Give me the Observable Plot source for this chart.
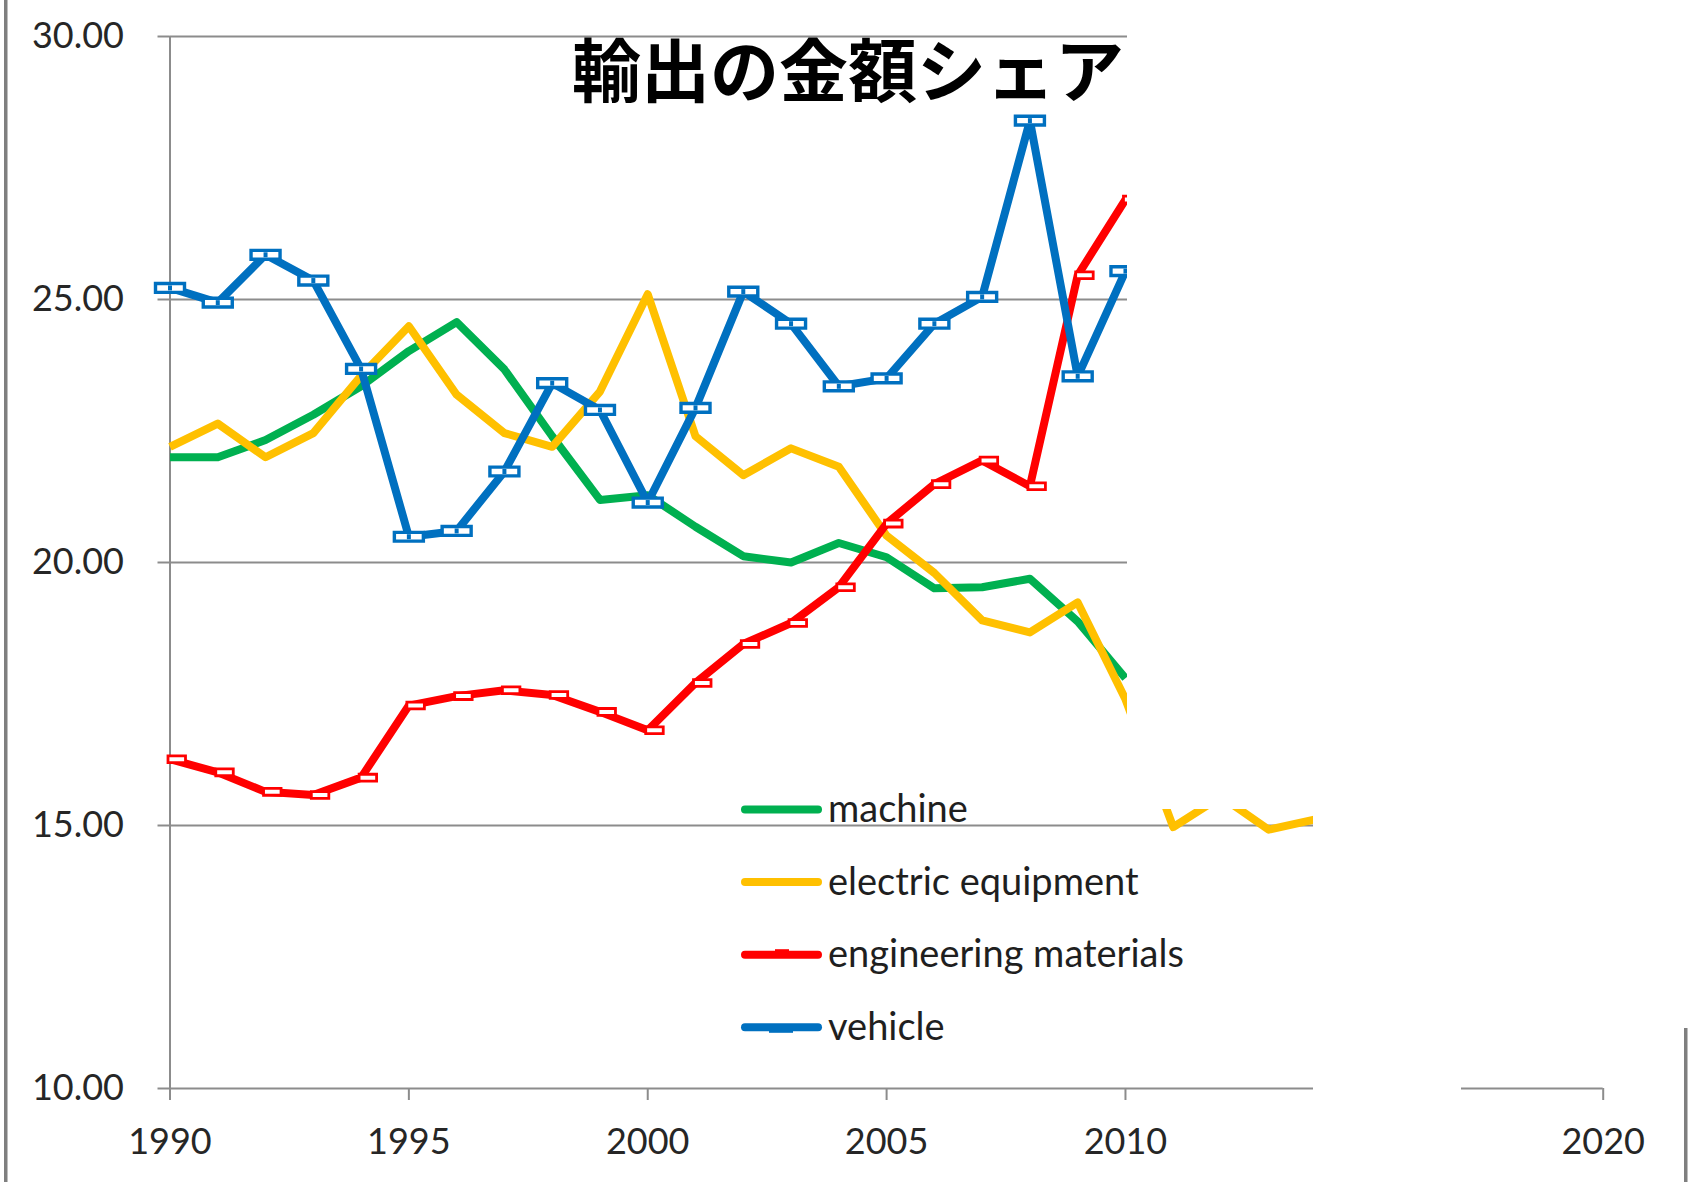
<!DOCTYPE html>
<html>
<head>
<meta charset="utf-8">
<script src="https://cdn.jsdelivr.net/npm/d3@7"></script>
<script src="https://cdn.jsdelivr.net/npm/@observablehq/plot@0.6"></script>
<style>
  html, body { margin: 0; padding: 0; background: #fff; }
  #chart { position: relative; width: 1690px; height: 1182px; overflow: hidden; background: #fff; color: #262626; }
  #chart > svg { position: absolute; left: 0; top: 0; }
</style>
</head>
<body>
<div id="chart"></div>
<script>
// Export value share (%) by product group
const years = d3.range(1990, 2011);
const electricYears = d3.range(1990, 2015);

const machine = [22.0, 22.0, 22.33, 22.81, 23.35, 24.02, 24.57, 23.67, 22.4, 21.19, 21.28,
  20.68, 20.12, 20.0, 20.37, 20.1, 19.51, 19.53, 19.69, 18.88, 17.8];
const electric = [22.2, 22.64, 22.0, 22.46, 23.55, 24.49, 23.19, 22.46, 22.2, 23.25, 25.1,
  22.4, 21.66, 22.17, 21.82, 20.51, 19.8, 18.9, 18.67, 19.24, 17.4, 14.97, 15.55, 14.92, 15.12];
const materials = [16.26, 16.01, 15.64, 15.58, 15.91, 17.28, 17.46, 17.57, 17.48, 17.16, 16.81,
  17.71, 18.45, 18.85, 19.53, 20.74, 21.49, 21.94, 21.45, 25.46, 26.9];
const vehicle = [25.22, 24.94, 25.85, 25.36, 23.68, 20.49, 20.6, 21.73, 23.41, 22.9, 21.14,
  22.94, 25.15, 24.54, 23.35, 23.5, 24.54, 25.05, 28.4, 23.54, 25.54];

const seriesNames = ["machine", "electric equipment", "engineering materials", "vehicle"];
const seriesColors = ["#00B050", "#FFC000", "#FF0000", "#0070C0"];
const yTicks = [10, 15, 20, 25, 30];
const xTicks = [1990, 1995, 2000, 2005, 2010, 2015, 2020];
const title = "輸出の金額シェア";

const rows = (xs, vs) => xs.map((year, i) => ({year, value: vs[i]}));
const machineRows = rows(years, machine);
const electricRows = rows(electricYears, electric);
const materialsRows = rows(years, materials);
const vehicleRows = rows(years, vehicle);

// Dash-style point markers
const dashWide = {draw(c) { c.moveTo(-14.5, -4.4); c.lineTo(14.5, -4.4); c.lineTo(14.5, 4.4); c.lineTo(-14.5, 4.4); c.closePath(); }};
const dashCore = {draw(c) { c.moveTo(-2, -2.5); c.lineTo(2, -2.5); c.lineTo(2, 2.5); c.lineTo(-2, 2.5); c.closePath(); }};
const dashSmall = {draw(c) { c.moveTo(-2, -3.4); c.lineTo(15.5, -3.4); c.lineTo(15.5, 3.4); c.lineTo(-2, 3.4); c.closePath(); }};

const gray = "#8c8c8c";
const lineOpts = (color) => ({x: "year", y: "value", stroke: color, strokeWidth: 8, strokeLinejoin: "round", strokeLinecap: "butt"});

const W = 1690, H = 1182;
const plot = Plot.plot({
  width: W,
  height: H,
  marginLeft: 169.5,
  marginRight: 87.3,
  marginTop: 36,
  marginBottom: 94,
  style: {fontFamily: "Lato, sans-serif", background: "white", color: "#262626", overflow: "visible"},
  x: {domain: [1990, 2020], axis: null},
  y: {domain: [10, 30], axis: null},
  marks: [
    Plot.ruleY(yTicks.filter(d => d > 10), {stroke: gray, strokeWidth: 2}),
    Plot.ruleY([10], {stroke: gray, strokeWidth: 2}),
    Plot.ruleX([1990], {stroke: gray, strokeWidth: 2}),
    Plot.axisY({ticks: yTicks, tickSize: 12, tickPadding: 34, tickFormat: d3.format(".2f"),
      fontSize: 36, stroke: gray, strokeWidth: 2, label: null}),
    Plot.axisX({ticks: xTicks, tickSize: 12, tickPadding: 28, tickFormat: d => String(d),
      fontSize: 36, stroke: gray, strokeWidth: 2, label: null}),
    Plot.line(machineRows, lineOpts(seriesColors[0])),
    Plot.line(electricRows, lineOpts(seriesColors[1])),
    Plot.line(materialsRows, lineOpts(seriesColors[2])),
    Plot.dot(materialsRows, {x: "year", y: "value", symbol: dashSmall, r: 5, fill: "white", stroke: seriesColors[2], strokeWidth: 2.8}),
    Plot.line(vehicleRows, lineOpts(seriesColors[3])),
    Plot.dot(vehicleRows, {x: "year", y: "value", symbol: dashWide, r: 5, fill: "white", stroke: seriesColors[3], strokeWidth: 3.4}),
    Plot.dot(vehicleRows, {x: "year", y: "value", symbol: dashCore, r: 5, fill: seriesColors[3]})
  ]
});
const chart = document.getElementById("chart");
chart.appendChild(plot);

// Overlay layer: white cover panels, window frame edges, title and legend
const svg = d3.select(chart).append("svg").attr("width", W).attr("height", H);

const covers = [
  [1127, 0, W - 1127, 809],
  [1313, 809, W - 1313, 219],
  [1313, 1028, 148, H - 1028]
];
svg.selectAll("rect.cover").data(covers).join("rect").attr("class", "cover")
  .attr("x", d => d[0]).attr("y", d => d[1]).attr("width", d => d[2]).attr("height", d => d[3])
  .attr("fill", "white");

svg.append("rect").attr("x", 4).attr("y", 0).attr("width", 3.5).attr("height", H).attr("fill", "#7f7f7f");
svg.append("rect").attr("x", 1684).attr("y", 1028).attr("width", 3.5).attr("height", H - 1028).attr("fill", "#7f7f7f");

svg.append("text")
  .attr("x", 1124).attr("y", 97)
  .attr("text-anchor", "end")
  .attr("font-family", "'Noto Sans CJK JP', sans-serif")
  .attr("font-weight", 700)
  .attr("font-size", 69)
  .attr("fill", "#000")
  .text(title);

const legend = svg.append("g").attr("font-family", "Lato, sans-serif").attr("font-size", 38).attr("fill", "#1f1f1f");
seriesNames.forEach((name, i) => {
  const cy = 809.5 + i * 72.6;
  legend.append("line").attr("x1", 745).attr("x2", 818).attr("y1", cy).attr("y2", cy)
    .attr("stroke", seriesColors[i]).attr("stroke-width", 8).attr("stroke-linecap", "round");
  if (i === 2) legend.append("rect").attr("x", 775).attr("y", cy - 5.5).attr("width", 14).attr("height", 7).attr("fill", seriesColors[i]);
  if (i === 3) legend.append("rect").attr("x", 769).attr("y", cy - 3).attr("width", 24).attr("height", 8.5).attr("fill", seriesColors[i]);
  legend.append("text").attr("x", 828).attr("y", cy).attr("dy", "0.33em").text(name);
});
</script>
</body>
</html>
